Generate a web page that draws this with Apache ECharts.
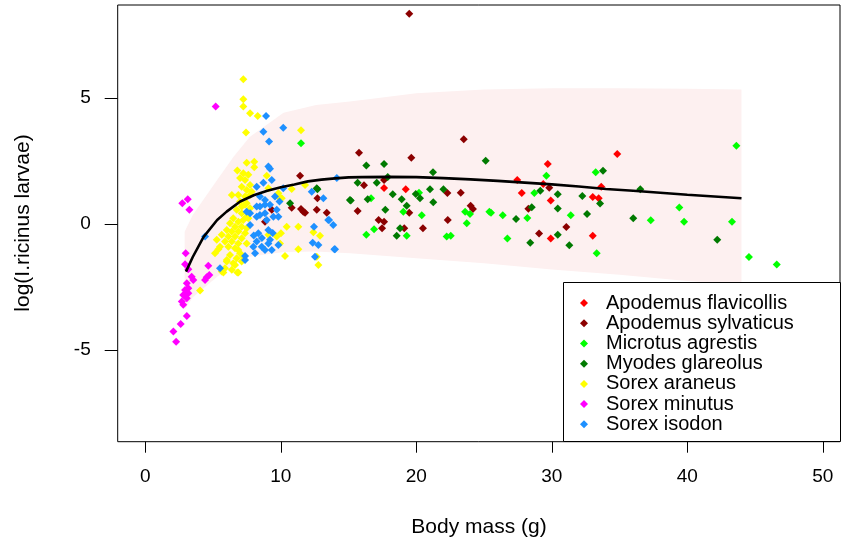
<!DOCTYPE html>
<html><head><meta charset="utf-8">
<script src="https://cdn.jsdelivr.net/npm/echarts@6/dist/echarts.min.js"></script>
<style>html,body{margin:0;padding:0;background:#fff}#c{width:842px;height:548px}</style>
</head><body><div id="c"></div>
<script>
// ---- data ----
const speciesNames = ["Apodemus flavicollis","Apodemus sylvaticus","Microtus agrestis","Myodes glareolus","Sorex araneus","Sorex minutus","Sorex isodon"];
const speciesColors = ["#ff0000","#8b0000","#00ff00","#007a00","#ffff00","#ff00ff","#1e90ff"];
const xTicks = [0,10,20,30,40,50];
const yTicks = [-5,0,5];

const apodemusFlavicollis = [[17.62,1.44],[19.22,1.39],[34.83,2.79],[29.7,2.39],[27.45,1.76],[29.37,1.6],[33.65,1.49],[27.78,1.24],[33.02,1.08],[33.46,1.03],[29.92,0.94],[33.02,-0.46],[29.92,-0.57]];
const apodemusSylvaticus = [[19.48,8.35],[11.42,1.92],[12.65,0.57],[11.79,0.46],[13.39,0.46],[9.33,0.57],[11.66,0.5],[8.83,0.1],[12.7,1.03],[11.49,0.6],[15.77,2.84],[23.5,3.37],[19.63,2.64],[16.14,1.55],[17.62,1.76],[22.29,1.24],[23.28,1.25],[19.48,0.46],[15.67,0.53],[17.22,0.17],[17.62,0.1],[17.47,-0.16],[19.11,-0.16],[20.49,-0.16],[22.32,0.17],[24.01,0.73],[24.18,0.6],[29.81,1.45],[28.27,0.61],[31.07,-0.11],[29.06,-0.37],[10.8,0.65]];
const microtusAgrestis = [[11.49,3.21],[20.2,1.25],[16.66,1.03],[19.04,0.5],[20.4,0.36],[16.88,-0.2],[16.31,-0.42],[19.29,-0.46],[22.24,-0.49],[22.54,-0.46],[23.6,0.5],[23.96,0.41],[23.72,0.04],[25.39,0.5],[29.6,1.92],[33.24,2.06],[28.71,1.24],[25.51,0.46],[26.38,0.36],[28.19,0.25],[31.4,0.36],[37.3,0.16],[39.41,0.66],[26.72,-0.57],[33.31,-1.15],[43.62,3.11],[39.76,0.1],[43.3,0.1],[44.55,-1.3],[46.6,-1.6]];
const myodesGlareolus = [[12.65,1.43],[10.68,0.83],[15.1,0.96],[16.31,2.33],[17.62,2.39],[25.12,2.52],[21.23,2.06],[15.67,1.65],[17.08,1.65],[17.89,1.87],[19.96,1.2],[21.01,1.39],[22.0,1.39],[18.26,1.19],[20.27,1.03],[21.25,0.87],[15.16,0.94],[16.41,0.99],[18.92,0.99],[19.29,0.73],[17.71,0.57],[18.8,-0.16],[18.55,-0.46],[12.7,1.39],[33.78,2.12],[36.53,1.39],[29.15,1.33],[30.44,1.19],[32.25,1.12],[33.56,0.82],[28.52,0.67],[30.44,0.62],[27.36,0.21],[32.6,0.41],[36.01,0.24],[30.44,-0.42],[28.41,-0.73],[31.29,-0.83],[42.21,-0.62]];
const sorexAraneus = [[7.23,5.75],[7.23,4.96],[7.23,4.67],[7.73,4.40],[8.29,4.30],[7.43,3.64],[11.49,3.73],[7.48,2.44],[8.04,2.48],[8.04,2.26],[6.79,2.13],[7.23,2.02],[7.6,1.96],[8.96,1.92],[6.99,1.83],[7.36,1.76],[7.73,1.56],[7.11,1.49],[7.48,1.36],[7.85,1.29],[6.38,1.16],[6.86,1.16],[7.36,1.1],[7.73,1.16],[6.99,0.9],[7.48,0.83],[7.11,0.7],[7.73,0.63],[7.11,0.44],[7.48,0.3],[9.82,1.23],[10.07,1.03],[9.08,1.43],[10.8,1.40],[11.79,1.56],[9.94,1.03],[7.36,0.77],[6.74,0.57],[6.49,0.24],[6.86,0.1],[7.23,0.17],[7.6,0.24],[6.25,0.04],[6.62,-0.1],[7.11,-0.1],[7.48,-0.16],[6.01,-0.23],[6.38,-0.29],[6.86,-0.29],[7.36,-0.36],[5.64,-0.42],[6.13,-0.49],[6.62,-0.49],[7.11,-0.56],[5.27,-0.62],[5.88,-0.69],[6.38,-0.69],[6.86,-0.76],[7.48,-0.76],[5.51,-0.89],[6.13,-0.89],[6.62,-0.95],[5.14,-1.15],[5.39,-0.99],[6.99,-1.15],[6.25,-1.22],[6.74,-1.35],[7.23,-1.29],[6.01,-1.48],[6.62,-1.62],[7.11,-1.48],[5.88,-1.75],[6.38,-1.81],[6.86,-1.92],[5.64,-1.88],[5.76,-1.92],[6.79,-1.92],[6.01,-1.42],[6.49,-1.55],[6.86,-1.02],[4.04,-2.63],[10.43,-0.1],[11.29,-0.1],[10.01,-0.36],[12.4,-0.32],[12.89,-0.46],[11.29,-0.99],[10.31,-1.26],[12.65,-1.29],[12.77,-1.62],[9.94,-0.76],[9.7,-0.49],[9.08,-0.42]];
const sorexMinutus = [[5.19,4.67],[2.73,0.83],[3.13,0.99],[3.25,0.57],[2.98,-1.15],[2.93,-1.59],[3.17,-1.79],[3.42,-2.08],[3.54,-2.21],[4.65,-1.65],[4.72,-2.01],[4.53,-2.10],[4.41,-2.21],[3.06,-2.34],[3.17,-2.54],[2.93,-2.61],[3.17,-2.74],[2.80,-2.81],[3.06,-2.94],[2.69,-3.07],[2.80,-3.20],[3.06,-3.64],[2.61,-3.96],[2.07,-4.26],[2.27,-4.66]];
const sorexIsodon = [[8.91,4.30],[8.71,3.67],[10.18,3.83],[9.13,3.28],[9.08,2.29],[9.2,2.2],[9.33,1.76],[8.71,1.65],[8.22,1.49],[10.18,1.43],[14.13,1.83],[12.28,1.29],[13.14,1.03],[8.46,1.1],[8.83,0.96],[9.2,0.77],[8.46,0.7],[9.7,0.57],[8.83,0.44],[7.73,0.44],[8.22,0.3],[9.45,0.3],[4.41,-0.49],[5.51,-1.75],[7.48,0.5],[8.22,0.7],[8.46,0.37],[8.83,0.77],[9.82,0.3],[8.96,0.17],[8.34,-0.36],[9.08,-0.23],[7.73,-0.03],[8.22,-0.69],[8.59,-0.89],[7.97,-0.89],[9.08,-0.76],[9.33,-1.02],[8.83,-1.02],[8.1,-1.15],[7.36,-1.26],[7.36,-1.42],[9.82,-0.82],[12.45,-0.1],[13.5,0.17],[13.87,-0.03],[12.35,-0.73],[12.77,-0.82],[14.0,-0.99],[12.52,-1.29],[9.2,-0.62],[13.56,0.17],[13.95,-0.99],[9.57,1.1],[9.9,0.9],[8.6,-0.55],[9.4,-0.35],[8.0,-0.45]];

// fitted curve
const fitX = [3.0,3.5,4.3,5.3,6,7,8,9,10,11,12,13,14,15,16,18,20,22,24,26,28,30,32,34,36,38,40,42,44];
const fitY = [-1.88,-1.3,-0.5,0.17,0.5,0.9,1.15,1.33,1.47,1.58,1.7,1.77,1.82,1.86,1.87,1.88,1.87,1.83,1.78,1.72,1.65,1.58,1.5,1.4,1.33,1.25,1.17,1.1,1.03];
// prediction band
const bandX  = [2.9,3.5,5.3,6.5,7.7,10.2,12.6,15.1,20,25,30,35,40,44];
const bandLo = [-3.4,-2.9,-2.08,-1.6,-1.29,-1.1,-1.08,-1.15,-1.35,-1.55,-1.8,-2.0,-2.25,-2.4];
const bandHi = [-0.3,0.37,1.76,2.67,3.46,4.42,4.73,4.87,5.2,5.35,5.4,5.4,5.38,5.35];

const speciesData = [apodemusFlavicollis,apodemusSylvaticus,microtusAgrestis,myodesGlareolus,sorexAraneus,sorexMinutus,sorexIsodon];

// ---- chart ----
const FONT = "'Liberation Sans', Arial, sans-serif";
const chart = echarts.init(document.getElementById('c'), null, {renderer:'canvas'});
const grid = {left:117.7, right:2, top:5, bottom:106.3};

const series = [];
series.push({
  type:'custom', name:'band', z:1, silent:true,
  data: bandX.map((x,i)=>[x,bandLo[i],bandHi[i]]),
  renderItem: function(params, api){
    if (params.dataIndex !== 0) return null;
    const pts = [];
    for (let i=0;i<bandX.length;i++) pts.push(api.coord([bandX[i], bandHi[i]]));
    for (let i=bandX.length-1;i>=0;i--) pts.push(api.coord([bandX[i], bandLo[i]]));
    return {type:'polygon', shape:{points:pts}, style:{fill:'#fdf0f0', stroke:null}};
  }
});
series.push({
  type:'line', name:'fit', z:4, silent:true, symbol:'none',
  data: fitX.map((x,i)=>[x,fitY[i]]),
  lineStyle:{color:'#000', width:2.6}
});
speciesNames.forEach((n,i)=>{
  series.push({
    type:'scatter', name:n, z:2, symbol:'diamond', symbolSize:8,
    itemStyle:{color:speciesColors[i], opacity:1},
    data: speciesData[i]
  });
});

const option = {
  animation:false,
  backgroundColor:'#fff',
  grid: Object.assign({show:true, borderColor:'#000', borderWidth:1, backgroundColor:'transparent', z:5}, grid),
  xAxis:{
    type:'value', min:-2.04, max:51.27,
    axisLine:{show:false, onZero:false},
    splitLine:{show:false},
    axisTick:{show:true, length:11, lineStyle:{color:'#000'}, customValues:xTicks},
    axisLabel:{show:true, customValues:xTicks, margin:26, color:'#000', fontSize:19, fontFamily:FONT}
  },
  yAxis:{
    type:'value', min:-8.63, max:8.70,
    axisLine:{show:false, onZero:false},
    splitLine:{show:false},
    axisTick:{show:true, length:13, lineStyle:{color:'#000'}, customValues:yTicks},
    axisLabel:{show:true, customValues:yTicks, margin:27, color:'#000', fontSize:19, fontFamily:FONT}
  },
  legend:{
    data: speciesNames,
    orient:'vertical', left:575, top:288,
    icon:'diamond', itemWidth:8, itemHeight:8, itemGap:0,
    selectedMode:false, z:10,
    textStyle:{fontSize:20, fontFamily:FONT, color:'#000', lineHeight:20.2, padding:[0,0,0,13]}
  },
  graphic:[
    {type:'rect', z:8, shape:{x:563.5, y:282.5, width:277, height:159}, style:{fill:'#fff', stroke:'#000', lineWidth:1}},
    {type:'text', z:10, x:479, y:527, style:{text:'Body mass (g)', font:"21px "+FONT, fill:'#000', textAlign:'center', textVerticalAlign:'middle'}},
    {type:'text', z:10, x:23, y:223, rotation:Math.PI/2, style:{text:'log(I.ricinus larvae)', font:"21px "+FONT, fill:'#000', textAlign:'center', textVerticalAlign:'middle'}}
  ],
  series: series
};
chart.setOption(option);
</script></body></html>
